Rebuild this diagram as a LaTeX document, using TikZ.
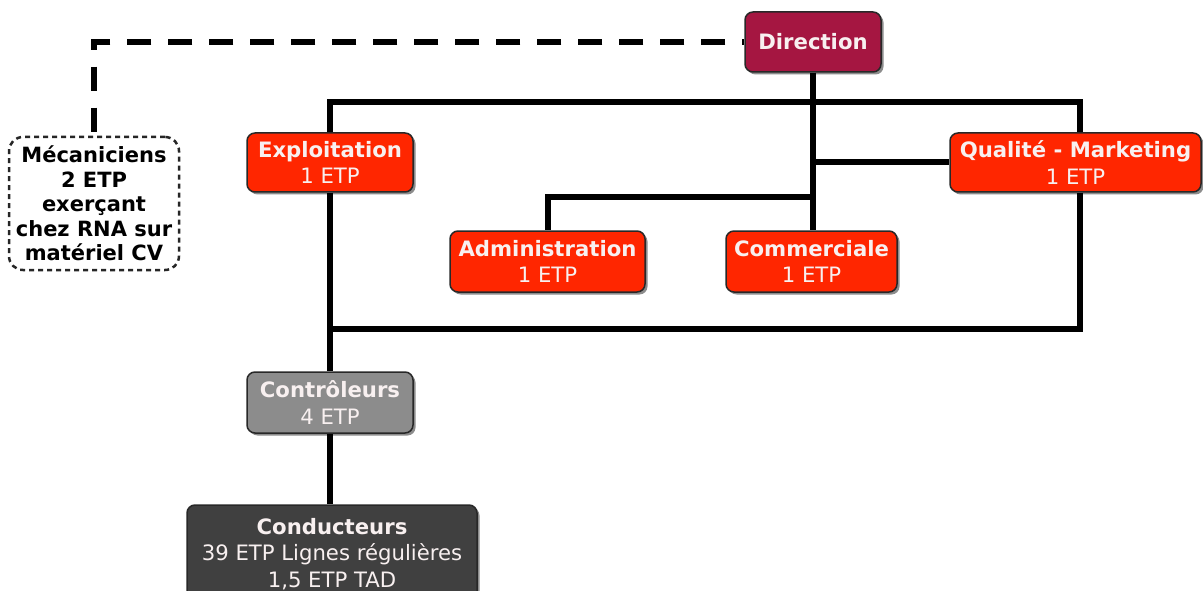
\documentclass[tikz,border=0pt]{standalone}
\usepackage{fontspec}
\setmainfont{DejaVu Sans}
\usetikzlibrary{shadows}
\definecolor{dircol}{RGB}{165,22,65}
\definecolor{redcol}{RGB}{255,38,0}
\definecolor{ctrlcol}{RGB}{140,140,140}
\definecolor{condcol}{RGB}{64,64,64}
\definecolor{bordcol}{RGB}{40,40,40}
\definecolor{txtcol}{RGB}{248,240,240}
\tikzset{
  box/.style={draw=bordcol, line width=1.5pt, rounded corners=8pt, align=center,
    text=txtcol, inner sep=0pt,
    font=\fontsize{21.2}{26.5}\selectfont,
    drop shadow={shadow xshift=2.5pt, shadow yshift=-2.5pt, opacity=0.45, fill=black}},
  dirbox/.style={box, fill=dircol},
  redbox/.style={box, fill=redcol},
  ctrlbox/.style={box, fill=ctrlcol},
  condbox/.style={box, fill=condcol},
  mecbox/.style={draw=black!85, line width=2.5pt, dash pattern=on 5pt off 4pt,
    rounded corners=14pt, fill=white, align=center, text=black, inner sep=0pt,
    font=\fontsize{21}{24.5}\selectfont\bfseries},
  conn/.style={draw=black, line width=6pt, line join=miter},
  dashconn/.style={draw=black, line width=6.5pt, dash pattern=on 24pt off 17pt, dash phase=22pt}
}
\begin{document}
\begin{tikzpicture}[x=1pt,y=-1pt]
\useasboundingbox (0,0) rectangle (1203,591);
\node[dirbox, minimum width=136pt, minimum height=60pt] (dir) at (813,42) {\textbf{Direction}};
\node[redbox, minimum width=166pt, minimum height=59pt] (expl) at (330,162.5) {\textbf{Exploitation}\\1 ETP};
\node[redbox, minimum width=195pt, minimum height=61pt] (adm) at (547.5,261.5) {\textbf{Administration}\\1 ETP};
\node[redbox, minimum width=171pt, minimum height=61pt] (com) at (811.5,261.5) {\textbf{Commerciale}\\1 ETP};
\node[redbox, minimum width=251pt, minimum height=59pt] (qual) at (1075.5,162.5) {\textbf{Qualité - Marketing}\\1 ETP};
\node[mecbox, minimum width=170pt, minimum height=133pt] (mec) at (94,203.5) {Mécaniciens\\2 ETP\\exerçant\\chez RNA sur\\matériel CV};
\node[ctrlbox, minimum width=166pt, minimum height=61pt] (ctrl) at (330,402.5) {\textbf{Contrôleurs}\\4 ETP};
\node[condbox, minimum width=290pt, minimum height=98pt] (cond) at (332,554) {\textbf{Conducteurs}\\39 ETP Lignes régulières\\1,5 ETP TAD};
\coordinate (tl) at (330,102);
\coordinate (tr) at (1080,102);
\coordinate (bl) at (330,329);
\coordinate (ja) at (813,197);
\draw[conn] (expl.north) -- (tl) -- (tr) -- (tr |- qual.north);
\draw[conn] (dir.south) -- (dir.south |- com.north);
\draw[conn] (dir.south |- qual.west) -- (qual.west);
\draw[conn] (ja) -| (adm.north);
\draw[conn] (tr |- qual.south) -- (tr |- bl) -- (bl);
\draw[conn] (expl.south) -- (ctrl.north);
\draw[conn] (ctrl.south) -- (ctrl.south |- cond.north);
\draw[dashconn] (dir.west) -| (mec.north);
\end{tikzpicture}
\end{document}
